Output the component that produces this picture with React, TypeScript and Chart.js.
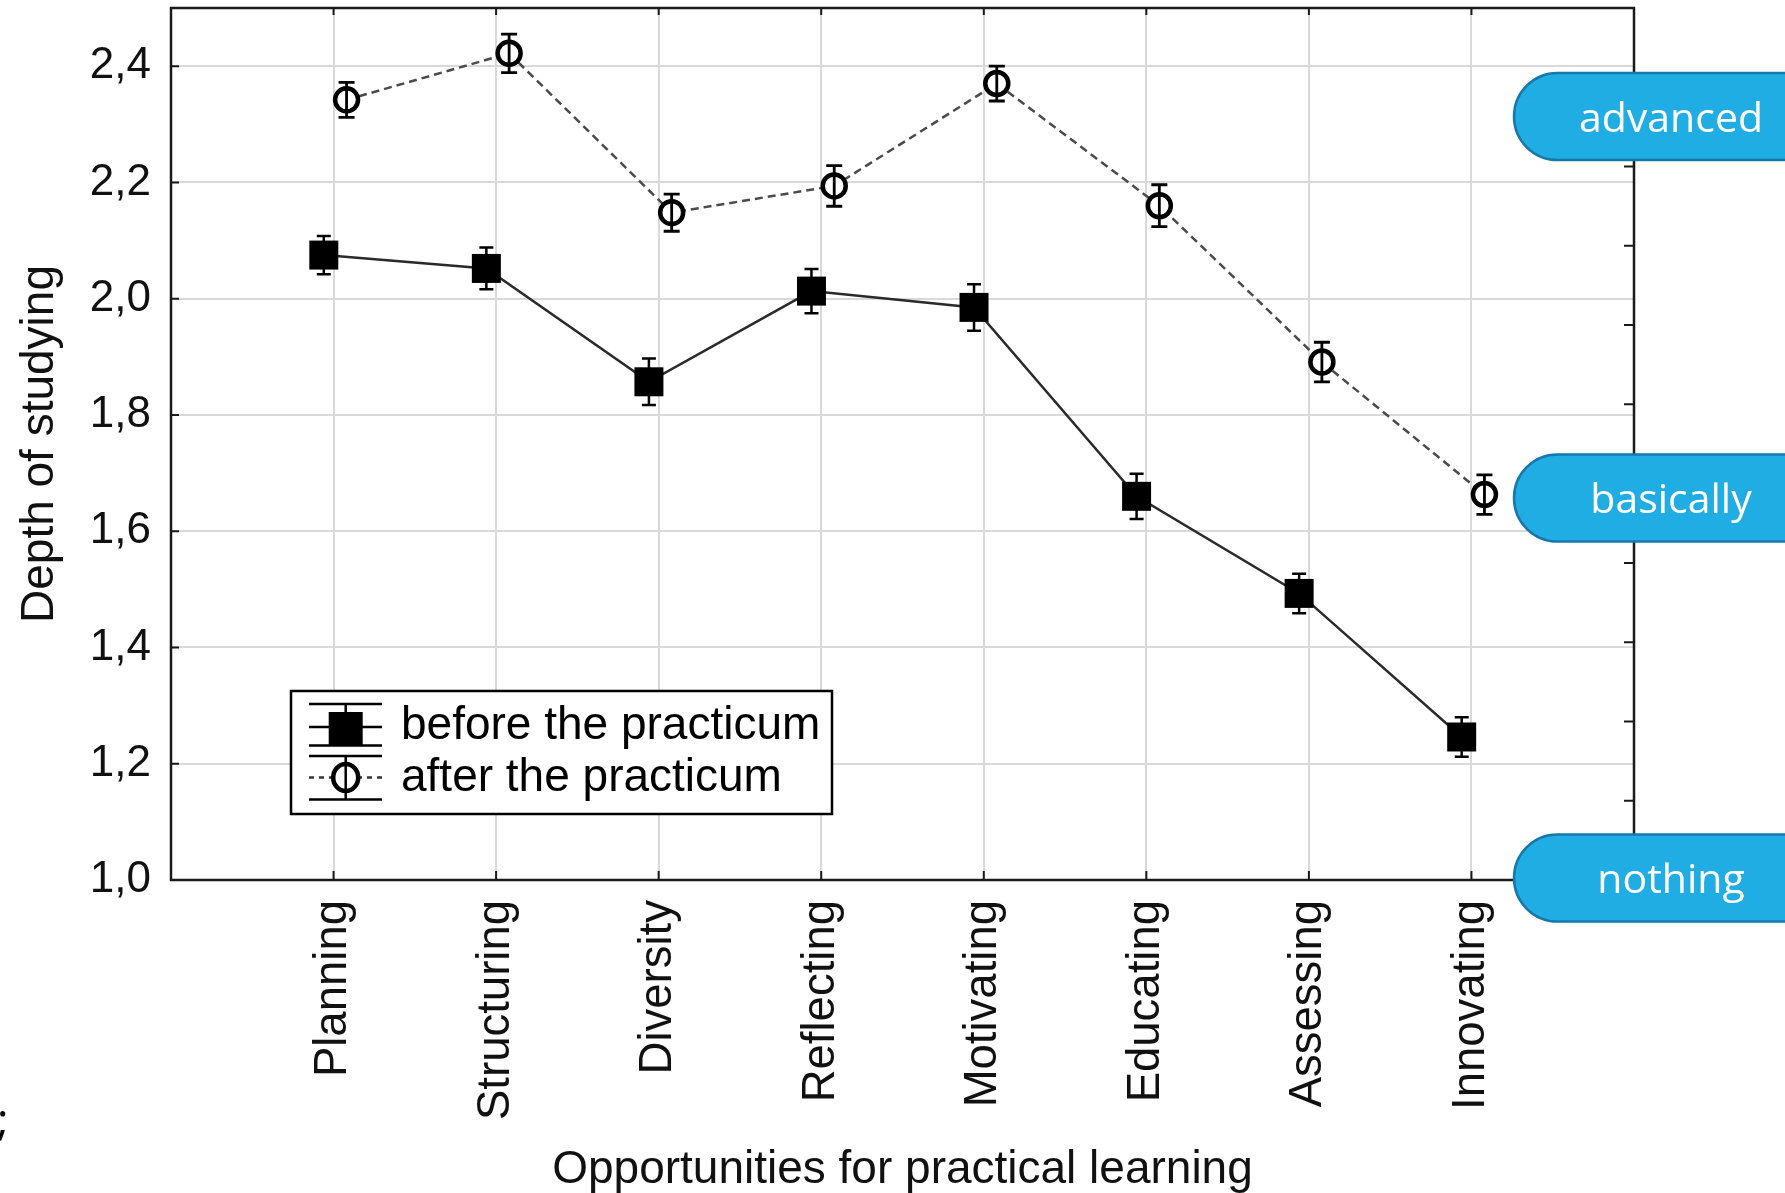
import React, { useEffect, useRef } from "react";
import { Chart, registerables } from "chart.js";

Chart.register(...registerables);

// Learning opportunities on the x axis
const categories = [
  "Planning",
  "Structuring",
  "Diversity",
  "Reflecting",
  "Motivating",
  "Educating",
  "Assessing",
  "Innovating",
];

// Mean depth of studying and error half-widths
const beforeValues = [2.075, 2.052, 1.857, 2.013, 1.985, 1.66, 1.493, 1.246];
const beforeErrors = [0.033, 0.036, 0.04, 0.038, 0.04, 0.039, 0.034, 0.034];
const afterValues = [2.342, 2.422, 2.148, 2.194, 2.37, 2.16, 1.891, 1.663];
const afterErrors = [0.03, 0.033, 0.032, 0.035, 0.03, 0.036, 0.034, 0.034];

const yTickValues = [1.0, 1.2, 1.4, 1.6, 1.8, 2.0, 2.2, 2.4];
const rightTickValues = [1, 2, 3, 4, 5, 6, 7, 8, 9, 10];

const seriesLabels = ["before the practicum", "after the practicum"];
const levelLabels = ["advanced", "basically", "nothing"];

const xTitle = "Opportunities for practical learning";
const yTitle = "Depth of studying";

// horizontal shift of each series around its category line
const BEFORE_SHIFT = -0.06;
const AFTER_SHIFT = 0.08;

const SANS = "'Liberation Sans', Arial, sans-serif";
const PILL_FONT = "'Open Sans', 'Noto Sans', sans-serif";

// vertical centres of the level badges on the right
const levelCenters = [116.5, 498, 878];

const decorPlugin = {
  id: "decor",
  afterDatasetsDraw(chart: any) {
    const ctx = chart.ctx as CanvasRenderingContext2D;
    const xs = chart.scales.x;
    const ys = chart.scales.y;
    const y2 = chart.scales.y2;
    const { left, right, top, bottom } = chart.chartArea;

    // error bars
    const drawErr = (vals: number[], errs: number[], shift: number, half: number, lw: number) => {
      ctx.save();
      ctx.strokeStyle = "#000";
      ctx.lineWidth = lw;
      vals.forEach((v, i) => {
        const x = xs.getPixelForValue(i + 1 + shift);
        const yt = ys.getPixelForValue(v + errs[i]);
        const yb = ys.getPixelForValue(v - errs[i]);
        ctx.beginPath();
        ctx.moveTo(x, yt);
        ctx.lineTo(x, yb);
        ctx.moveTo(x - half, yt);
        ctx.lineTo(x + half, yt);
        ctx.moveTo(x - half, yb);
        ctx.lineTo(x + half, yb);
        ctx.stroke();
      });
      ctx.restore();
    };
    drawErr(beforeValues, beforeErrors, BEFORE_SHIFT, 7, 2.5);
    drawErr(afterValues, afterErrors, AFTER_SHIFT, 8, 2.8);

    // frame and inward ticks
    ctx.save();
    ctx.strokeStyle = "#1a1a1a";
    ctx.lineWidth = 2.5;
    ctx.strokeRect(left, top, right - left, bottom - top);
    ctx.lineWidth = 2;
    ctx.beginPath();
    categories.forEach((_, i) => {
      const x = xs.getPixelForValue(i + 1);
      ctx.moveTo(x, bottom);
      ctx.lineTo(x, bottom - 9);
      ctx.moveTo(x, top);
      ctx.lineTo(x, top + 7);
    });
    yTickValues.forEach((v) => {
      const y = ys.getPixelForValue(v);
      ctx.moveTo(left, y);
      ctx.lineTo(left + 8, y);
    });
    rightTickValues.forEach((v) => {
      const y = y2.getPixelForValue(v);
      ctx.moveTo(right, y);
      ctx.lineTo(right - 10, y);
    });
    ctx.stroke();
    ctx.restore();

    // legend box
    ctx.save();
    const lx = 291, ly = 691, lw = 541, lh = 123;
    ctx.fillStyle = "#fff";
    ctx.fillRect(lx, ly, lw, lh);
    ctx.strokeStyle = "#000";
    ctx.lineWidth = 2.5;
    ctx.strokeRect(lx, ly, lw, lh);

    const cx = 345.7;
    const sx0 = 309, sx1 = 382;
    // before symbol
    ctx.lineWidth = 2.5;
    ctx.beginPath();
    ctx.moveTo(sx0, 704); ctx.lineTo(sx1, 704);
    ctx.moveTo(cx, 704); ctx.lineTo(cx, 712);
    ctx.moveTo(sx0, 727); ctx.lineTo(sx1, 727);
    ctx.moveTo(sx0, 745.5); ctx.lineTo(sx1, 745.5);
    ctx.stroke();
    ctx.fillStyle = "#000";
    ctx.fillRect(cx - 17, 712, 34, 33.5);
    // after symbol
    ctx.beginPath();
    ctx.moveTo(sx0, 756); ctx.lineTo(sx1, 756);
    ctx.moveTo(cx, 756); ctx.lineTo(cx, 799);
    ctx.moveTo(sx0, 799.5); ctx.lineTo(sx1, 799.5);
    ctx.stroke();
    ctx.save();
    ctx.setLineDash([5, 5]);
    ctx.strokeStyle = "#333";
    ctx.beginPath();
    ctx.moveTo(sx0, 777.5); ctx.lineTo(cx - 14, 777.5);
    ctx.moveTo(sx1, 777.5); ctx.lineTo(cx + 14, 777.5);
    ctx.stroke();
    ctx.restore();
    ctx.lineWidth = 4.5;
    ctx.beginPath();
    ctx.ellipse(cx, 777.5, 12.5, 13.5, 0, 0, Math.PI * 2);
    ctx.stroke();

    ctx.fillStyle = "#000";
    ctx.font = `46px ${SANS}`;
    ctx.textAlign = "left";
    ctx.textBaseline = "alphabetic";
    ctx.fillText(seriesLabels[0], 401, 738.5);
    ctx.fillText(seriesLabels[1], 401, 790.5);
    ctx.restore();
  },
  afterDraw(chart: any) {
    const ctx = chart.ctx as CanvasRenderingContext2D;
    const { left, right, top, bottom } = chart.chartArea;

    // axis titles
    ctx.save();
    ctx.fillStyle = "#111";
    ctx.font = `46px ${SANS}`;
    ctx.textAlign = "center";
    ctx.textBaseline = "alphabetic";
    ctx.fillText(xTitle, (left + right) / 2, 1183);
    ctx.translate(53, (top + bottom) / 2);
    ctx.rotate(-Math.PI / 2);
    ctx.fillText(yTitle, 0, 0);
    ctx.restore();

    // stray punctuation at the left margin
    ctx.save();
    ctx.fillStyle = "#000";
    ctx.font = `44px ${PILL_FONT}`;
    ctx.textAlign = "left";
    ctx.fillText(";", -3, 1135);
    ctx.restore();

    // level badges
    ctx.save();
    const pillLeft = 1514;
    const r = 43.5;
    levelLabels.forEach((label, i) => {
      const cy = levelCenters[i];
      ctx.beginPath();
      ctx.moveTo(1800, cy - r);
      ctx.lineTo(pillLeft + r, cy - r);
      ctx.arc(pillLeft + r, cy, r, -Math.PI / 2, Math.PI / 2, true);
      ctx.lineTo(1800, cy + r);
      ctx.fillStyle = "#1FADE3";
      ctx.fill();
      ctx.strokeStyle = "#1779A9";
      ctx.lineWidth = 2.5;
      ctx.stroke();
      ctx.fillStyle = "#fff";
      ctx.font = `41px ${PILL_FONT}`;
      ctx.textAlign = "center";
      ctx.textBaseline = "alphabetic";
      ctx.fillText(label, 1671, cy + 15);
    });
    ctx.restore();
  },
};

export default function App() {
  const canvasRef = useRef<HTMLCanvasElement | null>(null);

  useEffect(() => {
    if (!canvasRef.current) return;
    const toPoints = (vals: number[], shift: number) =>
      vals.map((v, i) => ({ x: i + 1 + shift, y: v }));

    const chart = new Chart(canvasRef.current, {
      type: "line",
      data: {
        datasets: [
          {
            label: seriesLabels[0],
            data: toPoints(beforeValues, BEFORE_SHIFT),
            borderColor: "#2a2a2a",
            borderWidth: 2.5,
            pointStyle: "rect",
            pointRadius: 20.5,
            pointBackgroundColor: "#000",
            pointBorderColor: "#000",
            pointBorderWidth: 0,
            tension: 0,
          },
          {
            label: seriesLabels[1],
            data: toPoints(afterValues, AFTER_SHIFT),
            borderColor: "#4a4a4a",
            borderWidth: 2.5,
            borderDash: [8, 5],
            pointStyle: "circle",
            pointRadius: 11.5,
            pointBackgroundColor: "#fff",
            pointBorderColor: "#000",
            pointBorderWidth: 4.5,
            tension: 0,
          },
        ],
      },
      options: {
        responsive: false,
        animation: false,
        devicePixelRatio: 1,
        layout: { autoPadding: false, padding: { left: 0, right: 151, top: 8, bottom: 0 } },
        plugins: {
          legend: { display: false },
          tooltip: { enabled: false },
        },
        scales: {
          x: {
            type: "linear",
            min: 0,
            max: 9,
            position: "bottom",
            afterBuildTicks: (s: any) => {
              s.ticks = categories.map((_, i) => ({ value: i + 1 }));
            },
            afterFit: (s: any) => {
              s.height = 313;
              s.paddingLeft = 0;
              s.paddingRight = 0;
            },
            grid: { color: "#d9d9d9", lineWidth: 2, drawTicks: false },
            border: { display: false },
            ticks: {
              autoSkip: false,
              minRotation: 90,
              maxRotation: 90,
              padding: 20,
              color: "#111",
              font: { family: SANS, size: 45.5 },
              callback: (v: any) => categories[Math.round(Number(v)) - 1] ?? "",
            },
          },
          y: {
            min: 1,
            max: 2.5,
            position: "left",
            afterBuildTicks: (s: any) => {
              s.ticks = yTickValues.map((v) => ({ value: v }));
            },
            afterFit: (s: any) => {
              s.width = 171;
              s.paddingTop = 0;
              s.paddingBottom = 0;
            },
            grid: { color: "#d9d9d9", lineWidth: 2, drawTicks: false },
            border: { display: false },
            ticks: {
              padding: 20,
              color: "#111",
              font: { family: SANS, size: 44 },
              callback: (v: any) => Number(v).toFixed(1).replace(".", ","),
            },
          },
          y2: {
            display: false,
            min: 0,
            max: 11,
            position: "right",
          },
        },
      },
      plugins: [decorPlugin],
    } as any);

    return () => chart.destroy();
  }, []);

  return (
    <div style={{ position: "absolute", left: 0, top: 0, width: 1785, height: 1193, background: "#fff" }}>
      <canvas ref={canvasRef} width={1785} height={1193} style={{ display: "block", width: 1785, height: 1193 }} />
    </div>
  );
}
